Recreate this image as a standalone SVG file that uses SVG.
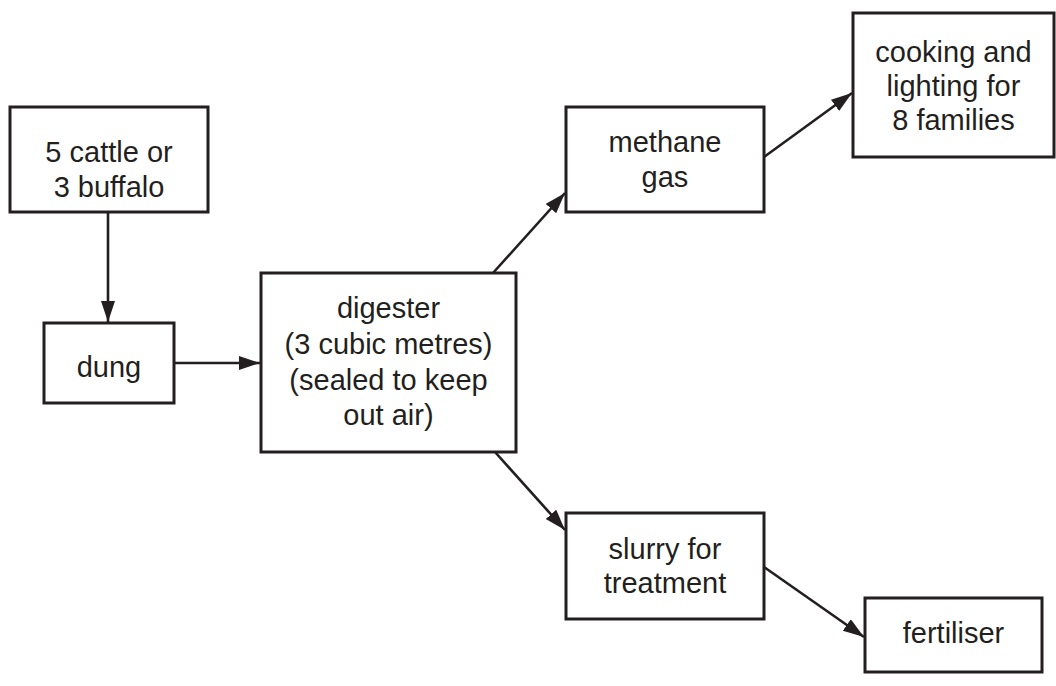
<svg xmlns="http://www.w3.org/2000/svg" width="1056" height="686" viewBox="0 0 1056 686">
<style>
.box{fill:#fff;stroke:#231f20;stroke-width:3}
.lbl{font-family:"Liberation Sans",Arial,sans-serif;font-size:29px;fill:#231f20;text-anchor:middle}
.con{stroke:#231f20;stroke-width:2.6;fill:none;marker-end:url(#arr)}
</style>
<defs>
<marker id="arr" markerUnits="userSpaceOnUse" markerWidth="24" markerHeight="16" refX="21" refY="7" orient="auto">
<path d="M0,0 L21,7 L0,14 z" fill="#231f20"/>
</marker>
</defs>
<rect width="1056" height="686" fill="#fff"/>
<g id="connectors">
<line class="con" x1="108" y1="212" x2="108" y2="322"/>
<line class="con" x1="174" y1="363" x2="260" y2="363"/>
<line class="con" x1="493" y1="273" x2="565" y2="193"/>
<line class="con" x1="764" y1="157" x2="852" y2="93"/>
<line class="con" x1="495" y1="452" x2="565" y2="530"/>
<line class="con" x1="764" y1="567" x2="864" y2="637"/>
</g>
<g id="cattle">
<rect class="box" x="10" y="107" width="198" height="105"/>
<text class="lbl" x="109" y="162">5 cattle or</text>
<text class="lbl" x="109" y="197">3 buffalo</text>
</g>
<g id="dung">
<rect class="box" x="44" y="323" width="130" height="80"/>
<text class="lbl" x="109" y="377">dung</text>
</g>
<g id="digester">
<rect class="box" x="261" y="273" width="255" height="179"/>
<text class="lbl" x="388.5" y="318">digester</text>
<text class="lbl" x="388.5" y="354">(3 cubic metres)</text>
<text class="lbl" x="388.5" y="390">(sealed to keep</text>
<text class="lbl" x="388.5" y="425">out air)</text>
</g>
<g id="methane">
<rect class="box" x="566" y="107" width="198" height="105"/>
<text class="lbl" x="665" y="152">methane</text>
<text class="lbl" x="665" y="187">gas</text>
</g>
<g id="cooking">
<rect class="box" x="853" y="13" width="201" height="144"/>
<text class="lbl" x="953.5" y="62">cooking and</text>
<text class="lbl" x="953.5" y="96">lighting for</text>
<text class="lbl" x="953.5" y="130">8 families</text>
</g>
<g id="slurry">
<rect class="box" x="566" y="513" width="198" height="106"/>
<text class="lbl" x="665" y="559">slurry for</text>
<text class="lbl" x="665" y="593">treatment</text>
</g>
<g id="fertiliser">
<rect class="box" x="865" y="598" width="177" height="74"/>
<text class="lbl" x="953.5" y="643">fertiliser</text>
</g>
</svg>
